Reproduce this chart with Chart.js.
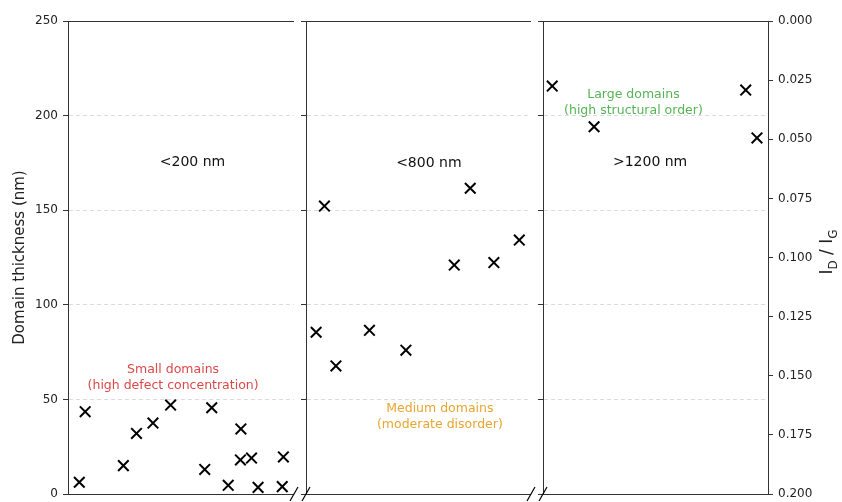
<!DOCTYPE html>
<html>
<head>
<meta charset="utf-8">
<script src="https://cdn.jsdelivr.net/npm/chart.js@4"></script>
<style>
  body { margin: 0; background: #fff; }
  #wrap { position: relative; width: 842px; height: 502px; }
  #wrap canvas { position: absolute; left: 0; top: 0; }
</style>
</head>
<body>
<div id="wrap">
  <canvas id="small" width="842" height="502"></canvas>
  <canvas id="medium" width="842" height="502"></canvas>
  <canvas id="large" width="842" height="502"></canvas>
</div>
<script>
// x position inside each panel (0-100), y = domain thickness in nm
const smallX = [5.0, 7.6, 24.5, 30.3, 37.6, 45.4, 60.5, 63.6, 70.9, 76.5, 76.3, 81.2, 84.1, 94.8, 95.3];
const smallY = [6.2, 43.5, 15, 32, 37.5, 47, 13, 45.6, 4.6, 34.4, 18, 19, 3.5, 3.9, 19.6];

const mediumX = [4.5, 8.2, 13.3, 28.2, 44.4, 65.9, 73.0, 83.5, 94.8];
const mediumY = [85.5, 152.2, 67.7, 86.5, 76, 121, 161.6, 122.3, 134.2];

const largeX = [4.1, 22.7, 90.1, 95.1];
const largeY = [215.6, 194.1, 213.5, 188.2];

const thicknessTicks = [0, 50, 100, 150, 200, 250];
const ratioTicks = [0, 0.025, 0.05, 0.075, 0.1, 0.125, 0.15, 0.175, 0.2];

const rangeLabels = ['<200 nm', '<800 nm', '>1200 nm'];
const regionLabels = [
  ['Small domains', '(high defect concentration)'],
  ['Medium domains', '(moderate disorder)'],
  ['Large domains', '(high structural order)']
];

const FONT = '"DejaVu Sans", sans-serif';
const SPINE = '#333';

function toPoints(xs, ys) {
  return xs.map((x, i) => ({ x: x, y: ys[i] }));
}

// spines, broken-axis marks and text labels
const panelDecor = {
  id: 'panelDecor',
  afterDraw(chart, args, opts) {
    const { ctx, chartArea: a, scales } = chart;
    ctx.save();
    ctx.strokeStyle = SPINE;
    ctx.lineWidth = 1;
    ctx.beginPath();
    ctx.moveTo(a.left, a.top + 0.5); ctx.lineTo(a.right, a.top + 0.5);
    ctx.moveTo(a.left, a.bottom + 0.5); ctx.lineTo(a.right, a.bottom + 0.5);
    ctx.stroke();

    ctx.strokeStyle = '#000';
    ctx.lineWidth = 1.2;
    opts.breaks.forEach(side => {
      const bx = side === 'left' ? a.left : a.right;
      ctx.beginPath();
      ctx.moveTo(bx - 4, a.bottom + 7);
      ctx.lineTo(bx + 4, a.bottom - 7);
      ctx.stroke();
    });

    ctx.textAlign = 'center';
    ctx.textBaseline = 'middle';
    ctx.fillStyle = '#111';
    ctx.font = '14px ' + FONT;
    ctx.fillText(opts.range, scales.x.getPixelForValue(opts.rangeAt[0]), scales.y.getPixelForValue(opts.rangeAt[1]));

    ctx.fillStyle = opts.regionColor;
    ctx.font = '12.5px ' + FONT;
    const rx = scales.x.getPixelForValue(opts.regionAt[0]);
    const ry = scales.y.getPixelForValue(opts.regionAt[1]);
    ctx.fillText(opts.region[0], rx, ry - 8);
    ctx.fillText(opts.region[1], rx, ry + 8);

    if (opts.ratioTitle) {
      ctx.translate(826, 252);
      ctx.rotate(-Math.PI / 2);
      ctx.fillStyle = '#222';
      ctx.textAlign = 'left';
      ctx.textBaseline = 'alphabetic';
      const parts = [['I', 17, 0], ['D', 12, 5], [' / ', 17, 0], ['I', 17, 0], ['G', 12, 5]];
      let total = 0;
      parts.forEach(p => { ctx.font = p[1] + 'px ' + FONT; total += ctx.measureText(p[0]).width; });
      let tx = -total / 2;
      parts.forEach(p => {
        ctx.font = p[1] + 'px ' + FONT;
        ctx.fillText(p[0], tx, 6 + p[2]);
        tx += ctx.measureText(p[0]).width;
      });
    }
    ctx.restore();
  }
};

function gridColor(c) {
  if (c.tick && (c.tick.value === 0 || c.tick.value === 250)) return 'rgba(0,0,0,0)';
  return '#dcdcdc';
}

function thicknessAxis(showLabels) {
  return {
    position: 'left',
    min: 0,
    max: 250,
    afterBuildTicks: s => { s.ticks = thicknessTicks.map(v => ({ value: v })); },
    ticks: { display: showLabels, color: '#222', font: { family: FONT, size: 12 }, padding: 5 },
    grid: { color: gridColor, tickColor: SPINE, tickLength: 5, lineWidth: 1, borderDash: [4, 3] },
    border: { display: true, color: SPINE, width: 1, dash: [4, 3] },
    title: {
      display: showLabels,
      text: 'Domain thickness (nm)',
      color: '#222',
      font: { family: FONT, size: 15 },
      padding: { top: 11, bottom: 0 }
    },
    afterFit: s => {
      s.width = showLabels ? 68 : 10;
      s.paddingTop = 0;
      s.paddingBottom = 0;
    }
  };
}

function makePanel(id, xs, ys, pad, decor, extraScales) {
  const scales = Object.assign({
    x: { type: 'linear', min: 0, max: 100, display: false },
    y: thicknessAxis(id === 'small')
  }, extraScales || {});
  return new Chart(document.getElementById(id).getContext('2d'), {
    type: 'scatter',
    data: {
      datasets: [{
        data: toPoints(xs, ys),
        pointStyle: 'crossRot',
        pointRadius: 7.5,
        borderWidth: 2,
        borderColor: '#000',
        backgroundColor: '#000',
        clip: false
      }]
    },
    options: {
      responsive: false,
      animation: false,
      events: [],
      layout: { autoPadding: false, padding: { left: pad[0], right: pad[1], top: 21, bottom: 8 } },
      plugins: { legend: { display: false }, tooltip: { enabled: false }, panelDecor: decor },
      scales: scales
    },
    plugins: [panelDecor]
  });
}

makePanel('small', smallX, smallY, [0, 548], {
  breaks: ['right'],
  range: rangeLabels[0], rangeAt: [55.1, 175.5],
  region: regionLabels[0], regionAt: [46.5, 61.3],
  regionColor: 'rgba(214,39,40,0.85)'
});

makePanel('medium', mediumX, mediumY, [296, 311], {
  breaks: ['left', 'right'],
  range: rangeLabels[1], rangeAt: [54.6, 175],
  region: regionLabels[1], regionAt: [59.5, 41],
  regionColor: '#e8a530'
});

makePanel('large', largeX, largeY, [533, 0], {
  breaks: ['left'],
  range: rangeLabels[2], rangeAt: [47.6, 175.3],
  region: regionLabels[2], regionAt: [40.2, 206.6],
  regionColor: 'rgba(44,160,44,0.8)',
  ratioTitle: true
}, {
  y2: {
    position: 'right',
    min: 0,
    max: 0.2,
    reverse: true,
    afterBuildTicks: s => { s.ticks = ratioTicks.map(v => ({ value: v })); },
    ticks: { color: '#222', font: { family: FONT, size: 12 }, padding: 5, callback: v => Number(v).toFixed(3) },
    grid: { drawOnChartArea: false, tickColor: SPINE, tickLength: 5 },
    border: { display: true, color: SPINE, width: 1 },
    afterFit: s => {
      s.width = 74;
      s.paddingTop = 0;
      s.paddingBottom = 0;
    }
  }
});
</script>
</body>
</html>
